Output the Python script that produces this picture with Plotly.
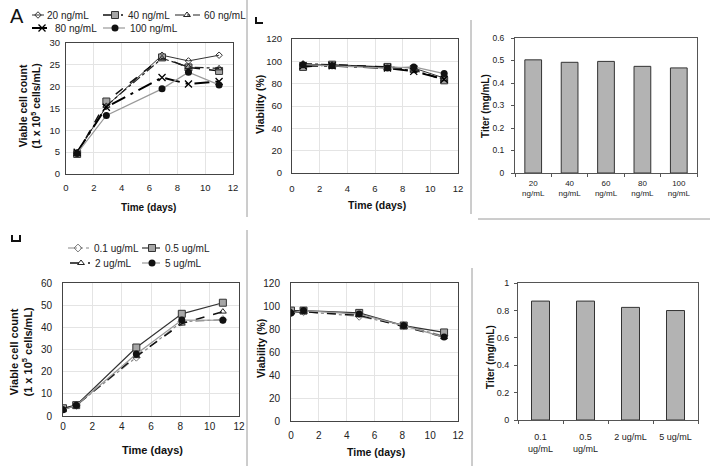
import plotly.graph_objects as go

W, H = 710, 466
FONT = "Liberation Sans, Arial, sans-serif"

# ---------------- data ----------------
days_A = [0.8, 2.9, 6.9, 8.8, 11.0]
vcc_20 = [4.9, 15.5, 27.2, 25.9, 27.2]
vcc_40 = [4.6, 16.6, 26.7, 24.4, 23.6]
vcc_60 = [5.0, 15.6, 26.5, 24.5, 24.2]
vcc_80 = [5.0, 15.3, 22.1, 20.6, 21.2]
vcc_100 = [4.7, 13.4, 19.5, 23.3, 20.4]

via_20 = [97, 97, 95, 94, 85]
via_40 = [95, 97, 95, 93, 83]
via_60 = [98, 97, 94, 92, 84]
via_80 = [96, 96, 94, 91, 84]
via_100 = [97, 96, 94, 95, 89]

titer_cats_top = ["20<br>ng/mL", "40<br>ng/mL", "60<br>ng/mL", "80<br>ng/mL", "100<br>ng/mL"]
titer_top = [0.503, 0.492, 0.496, 0.474, 0.467]

days_D = [0, 0.9, 5.0, 8.1, 10.9]
vcc_01 = [3.2, 4.8, 26.5, 42.5, 43.5]
vcc_05 = [3.5, 4.9, 30.9, 46.1, 51.1]
vcc_2 = [3.0, 4.8, 27.0, 41.7, 47.1]
vcc_5 = [2.8, 4.8, 28.0, 43.3, 43.2]

days_E = [0, 0.9, 4.9, 8.1, 11.0]
via_01 = [94, 95, 91, 83, 74]
via_05 = [96, 96, 94, 83, 77]
via_2 = [95, 95, 92, 82, 73]
via_5 = [94, 96, 93, 83, 73]

titer_cats_bot = ["0.1<br>ug/mL", "0.5<br>ug/mL", "2 ug/mL", "5 ug/mL"]
titer_bot = [0.868, 0.868, 0.822, 0.799]

top_names = ["20 ng/mL", "40 ng/mL", "60 ng/mL", "80 ng/mL", "100 ng/mL"]
bot_names = ["0.1 ug/mL", "0.5 ug/mL", "2 ug/mL", "5 ug/mL"]

# ---------------- styles ----------------
sty_top = {
    "20 ng/mL": (dict(color="#333333", width=1, dash="solid"),
                 dict(symbol="diamond-open", size=5, color="#333333", line=dict(width=1))),
    "40 ng/mL": (dict(color="#111111", width=1.5, dash="dash"),
                 dict(symbol="square", size=7, color="#a6a6a6", line=dict(color="#333333", width=1))),
    "60 ng/mL": (dict(color="#222222", width=1.2, dash="dashdot"),
                 dict(symbol="triangle-up-open", size=6, color="#222222", line=dict(width=1))),
    "80 ng/mL": (dict(color="#000000", width=2, dash="longdashdot"),
                 dict(symbol="x-thin", size=7, color="#000000", line=dict(color="#000000", width=1.3))),
    "100 ng/mL": (dict(color="#999999", width=1.2, dash="solid"),
                  dict(symbol="circle", size=7, color="#111111", line=dict(width=0))),
}
sty_bot = {
    "0.1 ug/mL": (dict(color="#888888", width=1.2, dash="dashdot"),
                  dict(symbol="diamond-open", size=6, color="#777777", line=dict(width=1))),
    "0.5 ug/mL": (dict(color="#333333", width=1.2, dash="solid"),
                  dict(symbol="square", size=7, color="#a6a6a6", line=dict(color="#333333", width=1))),
    "2 ug/mL": (dict(color="#111111", width=1.5, dash="dash"),
                dict(symbol="triangle-up-open", size=6, color="#222222", line=dict(width=1))),
    "5 ug/mL": (dict(color="#999999", width=1.2, dash="solid"),
                dict(symbol="circle", size=7, color="#111111", line=dict(width=0))),
}

fig = go.Figure()


def add_lines(xs, series, names, styles, xa, ya):
    for ys, nm in zip(series, names):
        ln, mk = styles[nm]
        fig.add_trace(go.Scatter(x=xs, y=ys, mode="lines+markers", name=nm, line=ln,
                                 marker=mk, xaxis=xa, yaxis=ya, showlegend=False))


add_lines(days_A, [vcc_20, vcc_40, vcc_60, vcc_80, vcc_100], top_names, sty_top, "x", "y")
add_lines(days_A, [via_20, via_40, via_60, via_80, via_100], top_names, sty_top, "x2", "y2")
add_lines(days_D, [vcc_01, vcc_05, vcc_2, vcc_5], bot_names, sty_bot, "x4", "y4")
add_lines(days_E, [via_01, via_05, via_2, via_5], bot_names, sty_bot, "x5", "y5")

bar_style = dict(color="#b3b3b3", line=dict(color="#333333", width=1))
fig.add_trace(go.Bar(x=titer_cats_top, y=titer_top, marker=bar_style, width=0.46,
                     xaxis="x3", yaxis="y3", showlegend=False))
fig.add_trace(go.Bar(x=titer_cats_bot, y=titer_bot, marker=bar_style, width=0.4,
                     xaxis="x6", yaxis="y6", showlegend=False))


def px_x(a, b):
    return [a / W, b / W]


def px_y(top, bottom):
    return [1 - bottom / H, 1 - top / H]


grid = "#e4e4e4"
frame = "#444444"


def line_axes(xdom, ydom, yrng, ydt, fs, xso, yso):
    xa = dict(domain=xdom, range=[0, 12], dtick=2, tick0=0, showgrid=True, gridcolor=grid,
              showline=True, linecolor=frame, linewidth=1, mirror=True, zeroline=False,
              ticks="", tickfont=dict(size=fs, color="#222"), ticklabelstandoff=xso,
              automargin=False)
    ya = dict(domain=ydom, range=yrng, dtick=ydt, tick0=0, showgrid=True, gridcolor=grid,
              showline=True, linecolor=frame, linewidth=1, mirror=True, zeroline=False,
              ticks="", tickfont=dict(size=fs, color="#222"), ticklabelstandoff=yso,
              automargin=False)
    return xa, ya


def bar_axes(xdom, ydom, yrng, ydt, fs, xfs, xso, yso):
    xa = dict(domain=xdom, showline=True, linecolor="#555555", linewidth=1, mirror=True,
              ticks="outside", tickson="boundaries", ticklen=3, tickcolor="#555555",
              tickfont=dict(size=xfs, color="#222"), showgrid=False, ticklabelstandoff=xso,
              automargin=False)
    ya = dict(domain=ydom, range=yrng, dtick=ydt, tick0=0, showline=True, linecolor="#555555",
              linewidth=1, mirror=True, ticks="outside", ticklen=3, tickcolor="#555555",
              showgrid=False, zeroline=False, tickfont=dict(size=fs, color="#222"),
              ticklabelstandoff=yso, automargin=False)
    return xa, ya


ax = {}
ax["xaxis"], ax["yaxis"] = line_axes(px_x(66, 233), px_y(43, 174), [0, 30], 5, 9.5, 5, 3)
ax["xaxis2"], ax["yaxis2"] = line_axes(px_x(292, 458), px_y(39, 173), [0, 120], 20, 9.5, 7, 7)
ax["xaxis3"], ax["yaxis3"] = bar_axes(px_x(515, 697), px_y(38, 173), [0, 0.6], 0.1, 8.5, 8, 2, 5)
ax["xaxis4"], ax["yaxis4"] = line_axes(px_x(63, 239), px_y(283, 416), [0, 60], 10, 10, 1, 8)
ax["xaxis5"], ax["yaxis5"] = line_axes(px_x(291, 458), px_y(283, 421), [0, 120], 20, 10, 5, 8)
ax["xaxis6"], ax["yaxis6"] = bar_axes(px_x(518, 698), px_y(283, 420), [0, 1], 0.2, 9, 9, 8, 3)
for i in range(2, 7):
    ax[f"xaxis{i}"]["anchor"] = f"y{i}"
    ax[f"yaxis{i}"]["anchor"] = f"x{i}"
ax["xaxis"]["anchor"] = "y"
ax["yaxis"]["anchor"] = "x"
# pixel overlay axis for legend keys and decorations
ax["xaxis7"] = dict(domain=[0, 1], range=[0, W], visible=False, anchor="y7", fixedrange=True,
                    automargin=False)
ax["yaxis7"] = dict(domain=[0, 1], range=[H, 0], visible=False, anchor="x7", fixedrange=True,
                    automargin=False)

# ---------------- legends ----------------
leg_top = [  # name, key x0, key x1, marker x, text x, y
    ("20 ng/mL", 32, 44, 38, 45, 15),
    ("40 ng/mL", 103, 123, 115, 126, 15),
    ("60 ng/mL", 175, 200, 187, 202, 15),
    ("80 ng/mL", 32, 50, 42, 53, 28),
    ("100 ng/mL", 103, 125, 115, 128, 28),
]
leg_bot = [
    ("0.1 ug/mL", 68, 89, 78, 92, 248),
    ("0.5 ug/mL", 142, 160, 152, 163, 248),
    ("2 ug/mL", 70, 90, 81, 93, 263),
    ("5 ug/mL", 142, 160, 152, 163, 263),
]
annotations = []
for legs, styles, fs in [(leg_top, sty_top, 10), (leg_bot, sty_bot, 10)]:
    for nm, a, b, m, t, yy in legs:
        ln, mk = styles[nm]
        fig.add_trace(go.Scatter(x=[a, b], y=[yy, yy], mode="lines", line=ln, xaxis="x7",
                                 yaxis="y7", showlegend=False, hoverinfo="skip"))
        fig.add_trace(go.Scatter(x=[m], y=[yy], mode="markers", marker=mk, xaxis="x7",
                                 yaxis="y7", showlegend=False, hoverinfo="skip"))
        annotations.append(dict(x=t, y=yy, xref="x7", yref="y7", text=nm, showarrow=False,
                                xanchor="left", yanchor="middle",
                                font=dict(size=fs, color="#222", family=FONT)))

# ---------------- titles ----------------
def ttl(text, x, y, size, angle=0):
    annotations.append(dict(x=x, y=y, xref="x7", yref="y7", text=text, showarrow=False,
                            textangle=angle, xanchor="center", yanchor="middle",
                            font=dict(size=size, color="#111", family=FONT)))


ttl("<b>Time (days)</b>", 148, 207, 10)
ttl("<b>Viable cell count<br>(1 x 10<sup>5</sup> cells/mL)</b>", 29.5, 106, 10.5, -90)
ttl("<b>Viability (%)</b>", 260, 105, 10.5, -90)
ttl("<b>Time (days)</b>", 376.5, 205, 10.5)
ttl("<b>Titer (mg/mL)</b>", 485, 106, 10, -90)
ttl("<b>Time (days)</b>", 152, 450, 11)
ttl("<b>Viable cell count<br>(1 x 10<sup>5</sup> cells/mL)</b>", 20.5, 352, 11, -90)
ttl("<b>Viability (%)</b>", 261, 349, 10.5, -90)
ttl("<b>Time (days)</b>", 376, 452, 10.5)
ttl("<b>Titer (mg/mL)</b>", 490, 357, 10, -90)
annotations.append(dict(x=16.5, y=16, xref="x7", yref="y7", text="A", showarrow=False,
                        font=dict(size=20, color="#111", family=FONT)))

# ---------------- separators / cropped letters ----------------
sep = dict(color="#9a9a9a", width=1)
shapes = [
    dict(type="line", xref="x7", yref="y7", x0=247, x1=247, y0=0, y1=217, line=sep),
    dict(type="line", xref="x7", yref="y7", x0=247, x1=247, y0=230, y1=466, line=sep),
    dict(type="line", xref="x7", yref="y7", x0=471, x1=471, y0=20, y1=214, line=sep),
    dict(type="line", xref="x7", yref="y7", x0=478, x1=710, y0=219, y1=219, line=sep),
    dict(type="line", xref="x7", yref="y7", x0=472, x1=472, y0=268, y1=466, line=sep),
    dict(type="path", xref="x7", yref="y7", path="M 256 17 L 256 23 L 263 23",
         line=dict(color="#111", width=2)),
    dict(type="path", xref="x7", yref="y7", path="M 12 235 L 12 241 L 20 241 L 20 235",
         line=dict(color="#111", width=2)),
]

fig.update_layout(
    template="none",
    width=W, height=H, margin=dict(l=0, r=0, t=0, b=0, autoexpand=False),
    paper_bgcolor="white", plot_bgcolor="rgba(0,0,0,0)",
    font=dict(family=FONT, color="#222"),
    showlegend=False, annotations=annotations, shapes=shapes, **ax,
)

fig.write_html("out.html", config={"displayModeBar": False},
               post_script="document.body.style.margin='0px';"
                           "document.body.style.overflow='hidden';")
